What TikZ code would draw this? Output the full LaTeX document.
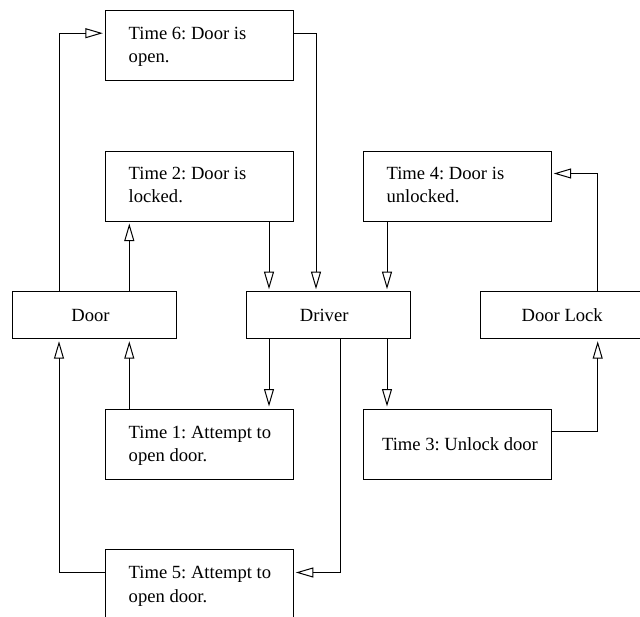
\documentclass[tikz,border=0pt]{standalone}
\usepackage{fontspec}
\setmainfont{Liberation Serif}
\usetikzlibrary{arrows.meta,calc}
\frenchspacing
\begin{document}
\begin{tikzpicture}[x=1pt,y=-1pt,
  box/.style={draw, line width=1pt, rectangle, inner sep=0pt, minimum width=188pt, minimum height=70pt},
  actor/.style={draw, line width=1pt, rectangle, inner sep=0pt, minimum width=164pt, minimum height=47pt},
  lbl/.style={inner sep=0pt, font=\frenchspacing\fontsize{18.6}{23.3}\selectfont, align=left, anchor=north west},
  ctr/.style={inner sep=0pt, font=\frenchspacing\fontsize{18.6}{23.3}\selectfont, anchor=base},
  arr/.style={draw, line width=1pt, -{Triangle[open, length=17.5pt, width=10pt]}, shorten >=2pt}]
\useasboundingbox (0,0) rectangle (640,616);
\clip (0,0) rectangle (640,616);
% boxes
\node[box] (t6) at (199.3,45.7) {};
\node[box] (t2) at (199.3,186) {};
\node[box] (t4) at (457.2,186) {};
\node[actor] (door) at (94,315.2) {};
\node[actor] (driver) at (328.2,315.2) {};
\node[actor] (lock) at (562.3,315.2) {};
\node[box] (t1) at (199.3,444) {};
\node[box] (t3) at (457.2,444) {};
\node[box] (t5) at (199.3,584.7) {};
% texts
\node[lbl] (t6x) at ($(t6.north west)+(23.7,16.6)$) {Time 6: Door is\\open.};
\node[lbl] (t2x) at ($(t2.north west)+(23.7,16.6)$) {Time 2: Door is\\locked.};
\node[lbl] (t4x) at ($(t4.north west)+(23.7,16.6)$) {Time 4: Door is\\unlocked.};
\node[lbl] (t1x) at ($(t1.north west)+(23.7,17)$) {Time 1: Attempt to\\open door.};
\node[lbl] (t5x) at ($(t5.north west)+(23.7,17)$) {Time 5: Attempt to\\open door.};
\node[ctr] (doorx) at (90.5,321) {Door};
\node[ctr] (driverx) at (324.2,321) {Driver};
\node[ctr] (lockx) at (562.2,321) {Door Lock};
\node[ctr] (t3x) at (460,450) {Time 3: Unlock door};
% connector columns
\coordinate (xa) at (59,0);
\coordinate (xb) at (129.3,0);
\coordinate (xc) at (269,0);
\coordinate (xd) at (316,0);
\coordinate (xe) at (340.5,0);
\coordinate (xf) at (387,0);
\coordinate (xg) at (597.7,0);
% connectors
\draw[arr] (door.north -| xa) |- ($(t6.north west)+(0,23)$);
\draw[arr] ($(t6.north east)+(0,23)$) -| (driver.north -| xd);
\draw[arr] (door.north -| xb) -- (t2.south -| xb);
\draw[arr] (t2.south -| xc) -- (driver.north -| xc);
\draw[arr] (t4.south -| xf) -- (driver.north -| xf);
\draw[arr] (lock.north -| xg) |- ($(t4.north east)+(0,23)$);
\draw[arr] (driver.south -| xc) -- (t1.north -| xc);
\draw[arr] (t1.north -| xb) -- (door.south -| xb);
\draw[arr] (driver.south -| xf) -- (t3.north -| xf);
\draw[arr] ($(t3.north east)+(0,23)$) -| (lock.south -| xg);
\draw[arr] (driver.south -| xe) |- ($(t5.north east)+(0,23.3)$);
\draw[arr] ($(t5.north west)+(0,23.3)$) -| (door.south -| xa);
\end{tikzpicture}
\end{document}
